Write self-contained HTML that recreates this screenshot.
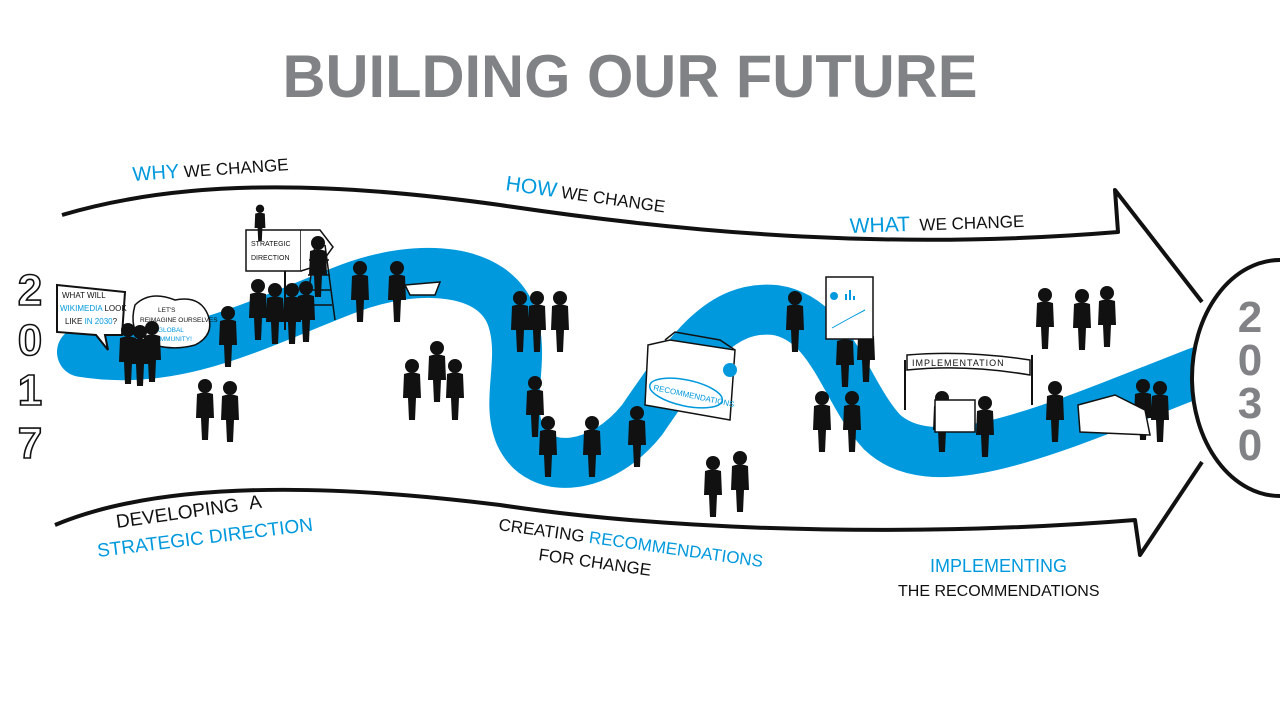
<!DOCTYPE html>
<html><head><meta charset="utf-8"><style>
html,body{margin:0;padding:0;background:#fff;}
svg{display:block;}
text{font-family:"Liberation Sans",sans-serif;}
</style></head><body>
<svg width="1280" height="720" viewBox="0 0 1280 720" xmlns="http://www.w3.org/2000/svg">
<defs>
<g id="p">
<circle cx="0" cy="-32" r="7"/>
<path d="M-8,-24 Q0,-27 8,-24 L9,0 L4,0 L3,22 L-3,22 L-4,0 L-9,0 Z"/>
</g>
</defs>
<text x="630" y="97" text-anchor="middle" font-size="60" font-weight="bold" fill="#808285" textLength="695" lengthAdjust="spacingAndGlyphs">BUILDING OUR FUTURE</text>

<path d="M62,215 C180,180 320,180 500,205 C700,235 900,250 1118,232 L1115,190 L1202,302" fill="none" stroke="#111" stroke-width="4" stroke-linejoin="round"/>
<path d="M55,525 C150,485 300,480 500,505 C700,535 950,535 1135,520 L1140,555 L1202,462" fill="none" stroke="#111" stroke-width="4" stroke-linejoin="round"/>

<path d="M82,352 C180,368 260,322 350,288 C420,262 495,268 512,318 C526,360 505,400 520,435 C540,478 602,470 642,420 C690,350 720,305 775,310 C832,318 845,392 882,432 C935,482 1050,430 1198,372" fill="none" stroke="#0099dd" stroke-width="50" stroke-linecap="round"/>
<ellipse cx="1280" cy="378" rx="88" ry="118" fill="#fff" stroke="#111" stroke-width="4"/>

<g font-size="44" font-weight="bold" fill="#fff" stroke="#111" stroke-width="1.6" text-anchor="middle">
<text x="30" y="305">2</text><text x="30" y="355">0</text><text x="30" y="405">1</text><text x="30" y="458">7</text>
</g>
<g font-size="44" font-weight="bold" fill="#808285" text-anchor="middle">
<text x="1250" y="332">2</text><text x="1250" y="375">0</text><text x="1250" y="418">3</text><text x="1250" y="460">0</text>
</g>

<g font-size="17" fill="#111">
<text x="133" y="181" transform="rotate(-4 133 181)"><tspan fill="#0099dd" font-size="20">WHY</tspan> WE CHANGE</text>
<text x="505" y="190" transform="rotate(8 505 190)"><tspan fill="#0099dd" font-size="21">HOW</tspan> WE CHANGE</text>
<text x="850" y="233" transform="rotate(-2 850 233)"><tspan fill="#0099dd" font-size="21">WHAT</tspan> &#160;WE CHANGE</text>
<text x="117" y="528" transform="rotate(-8 117 528)" font-size="19">DEVELOPING &#160;A</text>
<text x="98" y="557" transform="rotate(-7 98 557)" font-size="19" fill="#0099dd">STRATEGIC DIRECTION</text>
<text x="498" y="530" transform="rotate(8 498 530)" font-size="17">CREATING <tspan fill="#0099dd">RECOMMENDATIONS</tspan></text>
<text x="538" y="560" transform="rotate(8 538 560)" font-size="17">FOR CHANGE</text>
<text x="930" y="572" font-size="18" fill="#0099dd">IMPLEMENTING</text>
<text x="898" y="596" font-size="16">THE RECOMMENDATIONS</text>
</g>

<path d="M57,285 L125,292 L122,335 L105,335 L108,350 L96,335 L57,332 Z" fill="#fff" stroke="#111" stroke-width="2"/>
<g font-size="8" fill="#111"><text x="62" y="298">WHAT WILL</text><text x="60" y="311"><tspan fill="#0099dd">WIKIMEDIA</tspan> LOOK</text><text x="65" y="324">LIKE <tspan fill="#0099dd">IN 2030</tspan>?</text></g>
<path d="M135,305 Q150,290 175,300 Q200,295 208,315 Q215,335 195,345 Q170,352 145,342 Q128,330 135,305 Z" fill="#fff" stroke="#111" stroke-width="1.5"/>
<g font-size="6.5" fill="#111"><text x="158" y="312">LET'S</text><text x="140" y="322">REIMAGINE OURSELVES</text><text x="142" y="332">AS A <tspan fill="#0099dd">GLOBAL</tspan></text><text x="150" y="341" fill="#0099dd">COMMUNITY!</text></g>

<rect x="246" y="230" width="55" height="41" fill="#fff" stroke="#111" stroke-width="1.5"/>
<path d="M301,230 L320,230 L333,247 L320,265 L301,271" fill="#fff" stroke="#111" stroke-width="1.5"/>
<text x="251" y="246" font-size="7" fill="#111">STRATEGIC</text><text x="251" y="260" font-size="7" fill="#111">DIRECTION</text>
<line x1="285" y1="271" x2="285" y2="330" stroke="#111" stroke-width="2"/>
<path d="M315,245 L305,320 M325,245 L335,320 M309,260h20 M308,275h22 M307,290h24 M306,305h26" stroke="#111" stroke-width="1.5" fill="none"/>

<g fill="#111">
<use href="#p" x="128" y="362"/><use href="#p" x="140" y="364"/><use href="#p" x="152" y="360"/>
<use href="#p" x="228" y="345"/>
<use href="#p" x="205" y="418"/><use href="#p" x="230" y="420"/>
<use href="#p" x="258" y="318"/><use href="#p" x="275" y="322"/><use href="#p" x="292" y="322"/><use href="#p" x="306" y="320"/>
<g transform="translate(260,228) scale(0.6)"><use href="#p" x="0" y="0"/></g>
<use href="#p" x="318" y="275"/>
<use href="#p" x="360" y="300"/><use href="#p" x="397" y="300"/>
<use href="#p" x="437" y="380"/><use href="#p" x="412" y="398"/><use href="#p" x="455" y="398"/>
<use href="#p" x="520" y="330"/><use href="#p" x="537" y="330"/><use href="#p" x="560" y="330"/>
<use href="#p" x="535" y="415"/><use href="#p" x="548" y="455"/><use href="#p" x="592" y="455"/><use href="#p" x="637" y="445"/>
<use href="#p" x="713" y="495"/><use href="#p" x="740" y="490"/>
<use href="#p" x="795" y="330"/><use href="#p" x="845" y="365"/><use href="#p" x="866" y="360"/>
<use href="#p" x="822" y="430"/><use href="#p" x="852" y="430"/>
<use href="#p" x="942" y="430"/><use href="#p" x="985" y="435"/>
<use href="#p" x="1045" y="327"/><use href="#p" x="1082" y="328"/><use href="#p" x="1107" y="325"/>
<use href="#p" x="1055" y="420"/><use href="#p" x="1143" y="418"/><use href="#p" x="1160" y="420"/>
</g>
<path d="M405,285 L440,282 L435,295 L410,295 Z" fill="#fff" stroke="#111" stroke-width="1.5"/>
<rect x="826" y="277" width="47" height="62" fill="#fff" stroke="#111" stroke-width="1.5"/>
<circle cx="834" cy="296" r="4" fill="#0099dd"/>
<path d="M846,300v-6M850,300v-10M854,300v-4" stroke="#0099dd" stroke-width="2"/>
<path d="M832,328 L850,318 L865,310" stroke="#0099dd" fill="none"/>
<path d="M648,345 L670,340 L735,350 L730,420 L645,405 Z" fill="#fff" stroke="#111" stroke-width="1.5"/>
<path d="M665,340 L675,332 L720,340 L735,350" fill="none" stroke="#111" stroke-width="1.5"/>
<ellipse cx="686" cy="393" rx="37" ry="13" fill="none" stroke="#0099dd" stroke-width="1.5" transform="rotate(12 686 393)"/>
<text x="653" y="390" font-size="8" fill="#0099dd" transform="rotate(12 653 390)">RECOMMENDATIONS</text>
<circle cx="730" cy="370" r="7" fill="#0099dd"/>
<line x1="905" y1="360" x2="905" y2="410" stroke="#111" stroke-width="2"/>
<line x1="1032" y1="355" x2="1032" y2="405" stroke="#111" stroke-width="2"/>
<path d="M907,355 Q965,350 1030,360 L1030,375 Q965,364 907,370 Z" fill="#fff" stroke="#111" stroke-width="1.5"/>
<text x="912" y="366" font-size="9" fill="#111" letter-spacing="1">IMPLEMENTATION</text>
<rect x="935" y="400" width="40" height="32" fill="#fff" stroke="#111" stroke-width="1.5"/>
<path d="M1078,405 L1115,395 L1145,410 L1150,435 L1080,432 Z" fill="#fff" stroke="#111" stroke-width="1.5"/>
</svg>
</body></html>
